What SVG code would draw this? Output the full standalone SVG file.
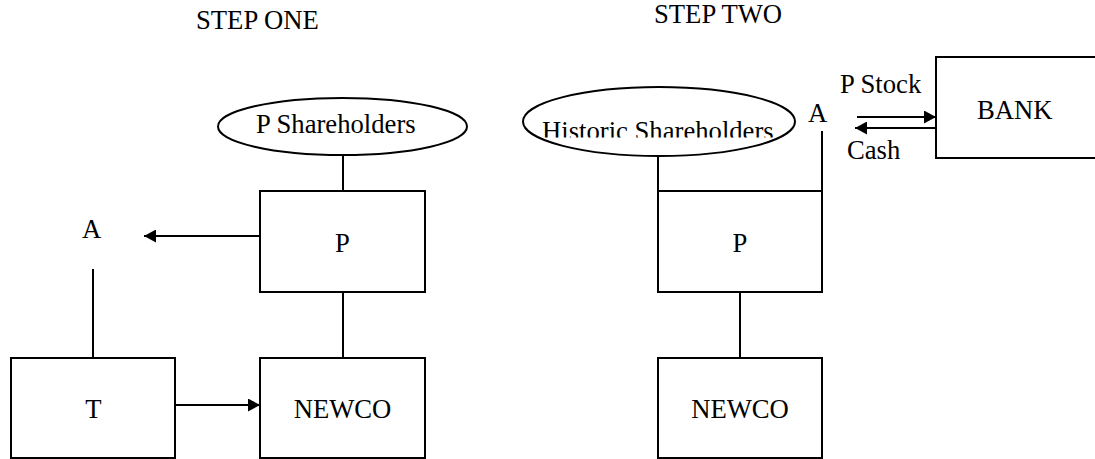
<svg xmlns="http://www.w3.org/2000/svg" width="1095" height="459" viewBox="0 0 1095 459">
<style>
text{font-family:"Liberation Serif","Times New Roman",serif;font-size:26.67px;fill:#000}
.box,.ell{fill:#fff;stroke:#000;stroke-width:2}
.ln{stroke:#000;stroke-width:2;fill:none}
.mid{text-anchor:middle}
</style>
<defs>
<marker id="ah" viewBox="0 0 12 13" refX="12" refY="6.5" markerWidth="12" markerHeight="13" markerUnits="userSpaceOnUse" orient="auto">
<path d="M0,0 L12,6.5 L0,13 Z" fill="#000"/>
</marker>
<clipPath id="hclip"><rect x="520" y="80" width="280" height="57.5"/></clipPath>
</defs>
<g id="titles">
<text x="196" y="29">STEP ONE</text>
<text x="654" y="23">STEP TWO</text>
</g>
<g id="connectors">
<line class="ln" x1="343" y1="155" x2="343" y2="191"/>
<line class="ln" x1="343" y1="292" x2="343" y2="358"/>
<line class="ln" x1="93" y1="269" x2="93" y2="358"/>
<line class="ln" x1="260" y1="236" x2="144" y2="236" marker-end="url(#ah)"/>
<line class="ln" x1="175" y1="405" x2="260" y2="405" marker-end="url(#ah)"/>
<line class="ln" x1="658" y1="156" x2="658" y2="191"/>
<line class="ln" x1="822" y1="131" x2="822" y2="191"/>
<line class="ln" x1="658" y1="191" x2="822" y2="191"/>
<line class="ln" x1="740" y1="292" x2="740" y2="358"/>
<line class="ln" x1="857" y1="117" x2="936" y2="117" marker-end="url(#ah)"/>
<line class="ln" x1="936" y1="128" x2="855" y2="128" marker-end="url(#ah)"/>
<text x="840" y="93">P Stock</text>
<text x="847" y="159">Cash</text>
</g>
<g id="p-shareholders">
<ellipse class="ell" cx="342.5" cy="126.5" rx="124.5" ry="28.5"/>
<text x="256" y="133">P Shareholders</text>
</g>
<g id="a1"><text x="82" y="238">A</text></g>
<g id="p1">
<rect class="box" x="260" y="191" width="165" height="101"/>
<text class="mid" x="342.5" y="252">P</text>
</g>
<g id="t">
<rect class="box" x="11" y="358" width="164" height="100"/>
<text class="mid" x="93.5" y="418">T</text>
</g>
<g id="newco1">
<rect class="box" x="260" y="358" width="165" height="100"/>
<text class="mid" x="342.5" y="418">NEWCO</text>
</g>
<g id="historic-shareholders">
<ellipse class="ell" cx="659" cy="121.5" rx="136" ry="34.5"/>
<text x="542" y="140" clip-path="url(#hclip)">Historic Shareholders</text>
</g>
<g id="a2"><text x="808" y="122">A</text></g>
<g id="p2">
<rect class="box" x="658" y="191" width="164" height="101"/>
<text class="mid" x="740" y="252">P</text>
</g>
<g id="newco2">
<rect class="box" x="658" y="358" width="164" height="100"/>
<text class="mid" x="740" y="418">NEWCO</text>
</g>
<g id="bank">
<rect class="box" x="936" y="57" width="170" height="101"/>
<text x="977" y="119">BANK</text>
</g>
</svg>
